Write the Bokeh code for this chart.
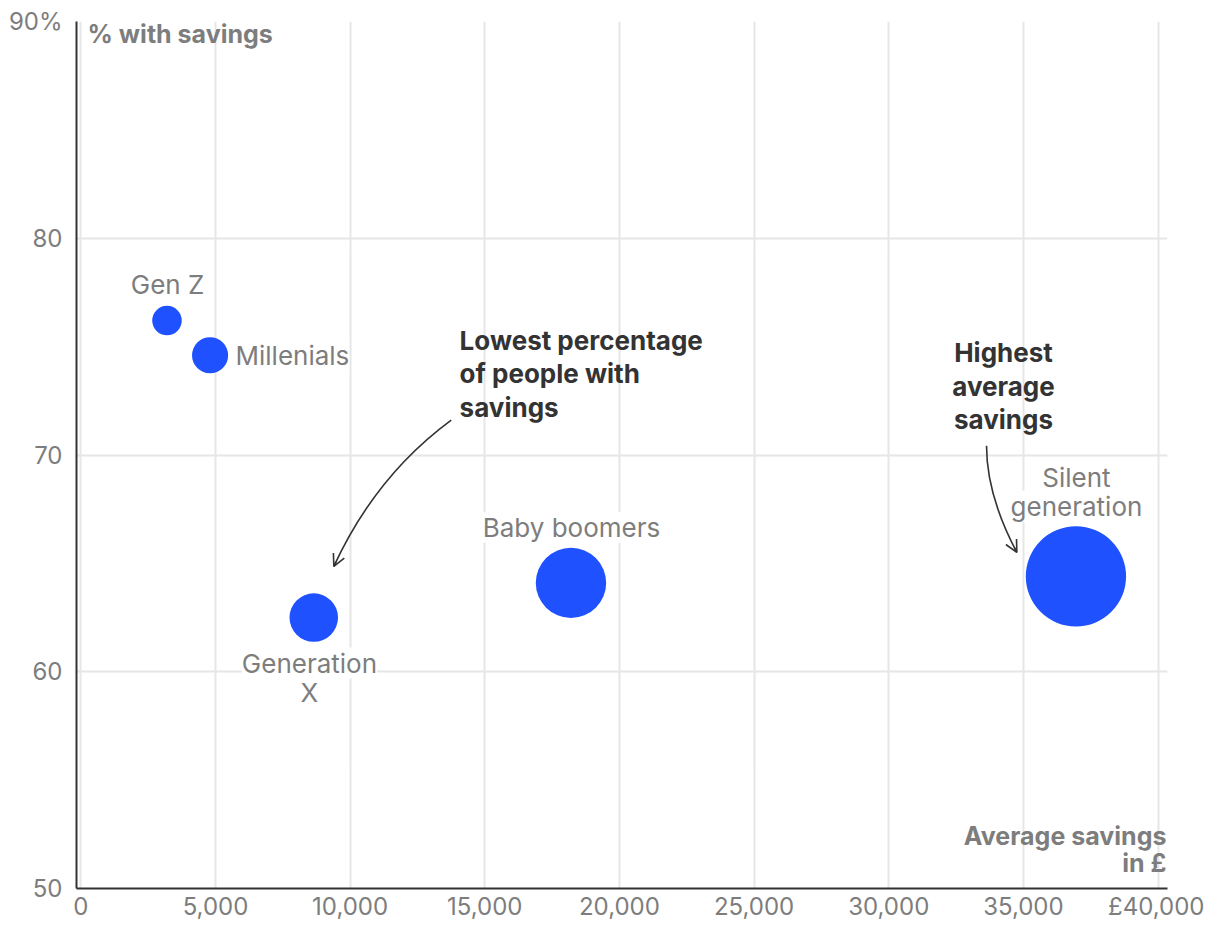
import math
from bokeh.plotting import figure
from bokeh.models import (Range1d, FixedTicker, NumeralTickFormatter, Label,
                          Arrow, OpenHead, ColumnDataSource)
from bokeh.embed import file_html
from bokeh.resources import INLINE

# ---- data ----
generations = ["Gen Z", "Millenials", "Generation X", "Baby boomers", "Silent generation"]
avg_savings = [3200, 4800, 8650, 18200, 36950]
pct_with_savings = [76.2, 74.6, 62.5, 64.1, 64.4]

x_ticks = [0, 5000, 10000, 15000, 20000, 25000, 30000, 35000, 40000]
y_ticks = [50, 60, 70, 80, 90]

FONT = "Inter"
BLUE = "#1f51ff"
GRAY = "#7d7d7d"
DARK = "#333333"

# bubble area proportional to average savings
sizes = [2 * 8.25 * math.sqrt(v / 1000.0) for v in avg_savings]
src = ColumnDataSource(dict(x=avg_savings, y=pct_with_savings, size=sizes, name=generations))

p = figure(width=1204, height=924, output_backend="svg", toolbar_location=None,
           x_range=Range1d(-160, 40350), y_range=Range1d(50, 90),
           min_border_left=76, min_border_right=37, min_border_top=21, min_border_bottom=36)
p.outline_line_color = None
p.background_fill_color = "white"

# axes
for ax in (p.xaxis[0], p.yaxis[0]):
    ax.axis_line_color = DARK
    ax.axis_line_width = 2
    ax.major_tick_line_color = None
    ax.minor_tick_line_color = None
    ax.major_tick_out = 0
    ax.major_tick_in = 0
    ax.minor_tick_out = 0
    ax.minor_tick_in = 0
    ax.major_label_text_color = GRAY
    ax.major_label_text_font = FONT
    ax.major_label_text_font_size = "24px"

p.xaxis.ticker = FixedTicker(ticks=x_ticks)
p.xaxis.formatter = NumeralTickFormatter(format="0,0")
p.xaxis.major_label_overrides = {40000: "£40,000"}
p.xaxis.major_label_standoff = 3
p.yaxis.ticker = FixedTicker(ticks=y_ticks)
p.yaxis.major_label_overrides = {90: "90%"}
p.yaxis.major_label_standoff = 14

p.xgrid.ticker = FixedTicker(ticks=x_ticks)
p.ygrid.ticker = FixedTicker(ticks=y_ticks)
for g in (p.xgrid[0], p.ygrid[0]):
    g.grid_line_color = "#e6e6e6"
    g.grid_line_width = 2

# axis titles inside the frame
p.add_layout(Label(x=250, y=89.43, text="% with savings", text_font=FONT,
                   text_font_size="25px", text_font_style="bold", text_color=GRAY,
                   text_align="left", text_baseline="middle"))
p.add_layout(Label(x=40310, y=51.79, text="Average savings\nin £", text_font=FONT,
                   text_font_size="25px", text_font_style="bold", text_color=GRAY,
                   text_align="right", text_baseline="middle", text_line_height=0.9))

# bubbles
p.scatter("x", "y", size="size", source=src, fill_color=BLUE, line_color=None)

# point labels (one label per line, each with its own white backing)
label_specs = [
    (generations[0], 3220, 77.85, "center"),
    (generations[1], 5745, 74.57, "left"),
    ("Generation", 8490, 60.40, "center"),
    ("X", 8490, 59.06, "center"),
    (generations[3], 18220, 66.67, "center"),
    ("Silent", 36970, 68.98, "center"),
    ("generation", 36970, 67.64, "center"),
]
for txt, lx, ly, al in label_specs:
    p.add_layout(Label(x=lx, y=ly, text=txt, text_font=FONT, text_font_size="26px",
                       text_color=GRAY, text_align=al, text_baseline="middle",
                       background_fill_color="white"))

# annotations
p.add_layout(Label(x=14065, y=73.74, text="Lowest percentage\nof people with\nsavings",
                   text_font=FONT, text_font_size="26px", text_font_style="bold",
                   text_color=DARK, text_align="left", text_baseline="middle",
                   text_line_height=1.075))
p.add_layout(Label(x=34260, y=73.18, text="Highest\naverage\nsavings",
                   text_font=FONT, text_font_size="26px", text_font_style="bold",
                   text_color=DARK, text_align="center", text_baseline="middle",
                   text_line_height=1.075))

# curved arrows
p.quadratic(x0=[13755], y0=[71.61], x1=[9395], y1=[64.86], cx=[10943], cy=[69.04],
            line_color=DARK, line_width=1.6)
p.add_layout(Arrow(end=OpenHead(size=12, line_color=DARK, line_width=1.6),
                   x_start=9473, y_start=65.07, x_end=9395, y_end=64.86,
                   line_color=DARK, line_width=1.6))
p.quadratic(x0=[33630], y0=[70.43], x1=[34755], y1=[65.51], cx=[33630], cy=[68.15],
            line_color=DARK, line_width=1.6)
p.add_layout(Arrow(end=OpenHead(size=12, line_color=DARK, line_width=1.6),
                   x_start=34670, y_start=65.71, x_end=34755, y_end=65.51,
                   line_color=DARK, line_width=1.6))

open("out.html", "w").write(file_html(p, INLINE))
